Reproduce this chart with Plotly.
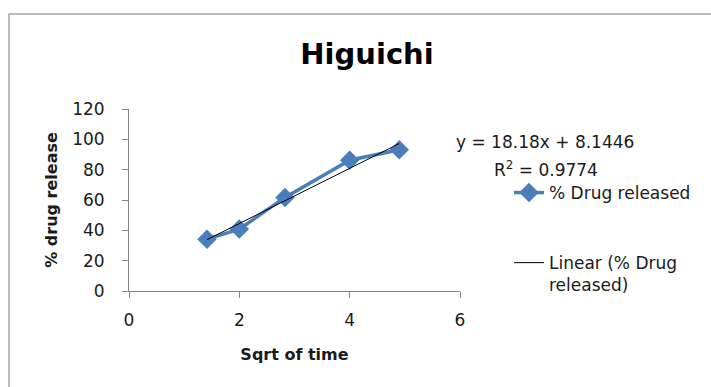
import numpy as np
import plotly.graph_objects as go

# Higuchi plot: % drug released against square root of time
sqrt_time = [1.414, 2.0, 2.828, 4.0, 4.899]
drug_released = [34.2, 40.8, 61.7, 86.2, 93.1]

# Linear trendline coefficients shown on the chart
slope = 18.18
intercept = 8.1446
r_squared = 0.9774

x_ticks = [0, 2, 4, 6]
y_ticks = [0, 20, 40, 60, 80, 100, 120]

FONT = "'DejaVu Sans', sans-serif"
BLUE = "#4A7EBB"
AXIS_GRAY = "#868686"
TEXT = "#1a1a1a"

trend_x = np.array([min(sqrt_time), max(sqrt_time)])
trend_y = slope * trend_x + intercept

fig = go.Figure()
fig.add_trace(go.Scatter(
    x=sqrt_time, y=drug_released, mode="lines+markers",
    name="% Drug released", legendgroup="a",
    line=dict(color=BLUE, width=3.5),
    marker=dict(symbol="diamond", size=15, color=BLUE),
))
fig.add_trace(go.Scatter(
    x=trend_x, y=trend_y, mode="lines",
    name="Linear (% Drug<br>released)", legendgroup="b",
    line=dict(color="black", width=1),
))

L, R, T, B = 129, 251, 109, 96
PW, PH = 711 - L - R, 387 - T - B


def px_x(px):
    return (px - L) / PW


def px_y(py):
    return (387 - B - py) / PH


fig.update_layout(
    width=711, height=387,
    margin=dict(l=L, r=R, t=T, b=B),
    paper_bgcolor="white", plot_bgcolor="white",
    font=dict(family=FONT, size=17, color=TEXT),
    title=dict(text="<b>Higuichi</b>", x=367 / 711, xanchor="center",
               y=1 - 54 / 387, yanchor="middle",
               font=dict(size=29, color="black")),
    showlegend=True,
    legend=dict(x=px_x(509), y=px_y(175), xanchor="left", yanchor="top",
                font=dict(size=17), tracegroupgap=45, valign="top",
                traceorder="grouped", bgcolor="rgba(0,0,0,0)"),
)

fig.update_xaxes(
    range=[0, 6], tickvals=x_ticks, showgrid=False, zeroline=False,
    showline=True, linecolor=AXIS_GRAY, linewidth=1,
    ticks="outside", ticklen=6, tickcolor=AXIS_GRAY,
    tickfont=dict(size=17), ticklabelstandoff=8,
    title=dict(text="<b>Sqrt of time</b>", font=dict(size=16), standoff=19),
)
fig.update_yaxes(
    range=[0, 120], tickvals=y_ticks, showgrid=False, zeroline=False,
    showline=True, linecolor=AXIS_GRAY, linewidth=1,
    ticks="outside", ticklen=6, tickcolor=AXIS_GRAY,
    tickfont=dict(size=17), ticklabelstandoff=14,
    title=dict(text="<b>% drug release</b>", font=dict(size=16), standoff=10),
)

# Trendline equation and R² label
fig.add_annotation(
    text=f"y = {slope}x + {intercept}", xref="paper", yref="paper",
    x=px_x(545), y=px_y(142), showarrow=False,
    font=dict(size=17), xanchor="center", yanchor="middle",
)
fig.add_annotation(
    text=f"R<sup>2</sup> = {r_squared}", xref="paper", yref="paper",
    x=px_x(546), y=px_y(169), showarrow=False,
    font=dict(size=17), xanchor="center", yanchor="middle",
)

# Chart area border
fig.add_shape(
    type="rect", xref="paper", yref="paper",
    x0=px_x(9), x1=px_x(715), y0=px_y(392), y1=px_y(14),
    line=dict(color="#A6A6A6", width=1.5), layer="below",
)

fig.write_html("out.html")
